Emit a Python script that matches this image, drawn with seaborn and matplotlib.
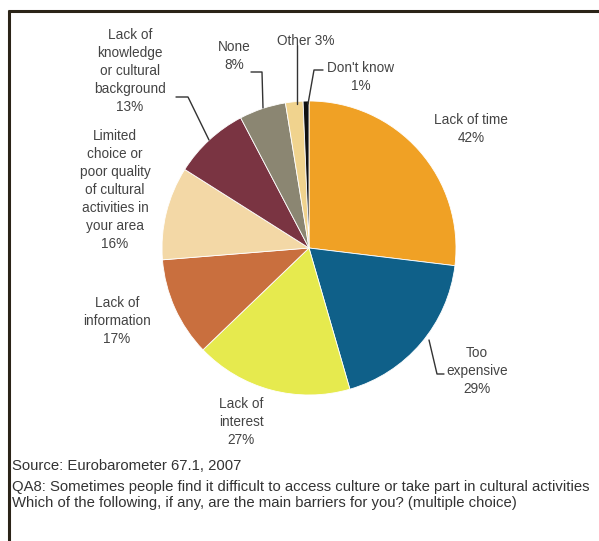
import matplotlib
matplotlib.use("Agg")
import matplotlib.pyplot as plt
import seaborn as sns

# data, clockwise from 12 o'clock
categories = ["Lack of time", "Too expensive", "Lack of interest", "Lack of information",
              "Limited choice or poor quality of cultural activities in your area",
              "Lack of knowledge or cultural background", "None", "Other", "Don't know"]
values = [42, 29, 27, 17, 16, 13, 8, 3, 1]
colors = ["#F0A125", "#0F6089", "#E6EA4E", "#C96F3E", "#F3D8A6",
          "#7A3442", "#8B8672", "#F0D38E", "#111111"]

label_texts = {
    "Lack of time": "Lack of time\n42%",
    "Too expensive": "Too\nexpensive\n29%",
    "Lack of interest": "Lack of\ninterest\n27%",
    "Lack of information": "Lack of\ninformation\n17%",
    "Limited choice": "Limited\nchoice or\npoor quality\nof cultural\nactivities in\nyour area\n16%",
    "Lack of knowledge": "Lack of\nknowledge\nor cultural\nbackground\n13%",
    "None": "None\n8%",
    "Other": "Other 3%",
    "Don't know": "Don't know\n1%",
}

source = "Source: Eurobarometer 67.1, 2007"
question = ("QA8: Sometimes people find it difficult to access culture or take part in cultural activities\n"
            "Which of the following, if any, are the main barriers for you? (multiple choice)")

sns.set_theme(style="white")
plt.rcParams['font.family'] = ['Liberation Sans', 'DejaVu Sans']

W, H = 599, 541
fig = plt.figure(figsize=(W / 100, H / 100), dpi=100)
ax = fig.add_axes([0, 0, 1, 1])


def Y(y):
    # image pixel row -> data y
    return H - y


ax.pie(values, colors=colors, startangle=90, counterclock=False,
       center=(309, Y(248)), radius=147, frame=True,
       wedgeprops=dict(edgecolor="white", linewidth=0.6))
ax.set_xlim(0, W)
ax.set_ylim(0, H)
ax.set_aspect("equal")
ax.axis("off")

txt_kw = dict(fontsize=9.8, color="#444444", ha="center", va="top", linespacing=1.37)

# label positions in image pixels (top of first line)
ax.text(471, Y(113), label_texts["Lack of time"], **txt_kw)
ax.text(477, Y(346), label_texts["Too expensive"], **txt_kw)
ax.text(241, Y(397), label_texts["Lack of interest"], **txt_kw)
ax.text(117, Y(296), label_texts["Lack of information"], **txt_kw)
ax.text(115, Y(129), label_texts["Limited choice"], **txt_kw)
ax.text(130, Y(28), label_texts["Lack of knowledge"], **txt_kw)
ax.text(234, Y(40), label_texts["None"], **txt_kw)
ax.text(306, Y(34), label_texts["Other"], **txt_kw)
ax.text(361, Y(61), label_texts["Don't know"], **txt_kw)

# leader lines
line_kw = dict(color="#333333", linewidth=1.0)
ax.plot([176, 188, 209], [Y(97), Y(97), Y(140)], **line_kw)
ax.plot([251, 262, 263], [Y(72), Y(72), Y(108)], **line_kw)
ax.plot([297, 297], [Y(45), Y(104)], **line_kw)
ax.plot([323, 314, 308], [Y(70), Y(70), Y(104)], **line_kw)
ax.plot([429, 437, 444], [Y(340), Y(374), Y(374)], **line_kw)

# source and question
ax.text(12, Y(466), source, fontsize=10.7, color="#333333", ha="left", va="center")
ax.text(12, Y(480), question, fontsize=10.7, color="#333333", ha="left", va="top", linespacing=1.2)

# frame lines (top and left)
ax.plot([8, W], [Y(11), Y(11)], color="#2b2418", linewidth=2.2, solid_capstyle="butt")
ax.plot([9, 9], [Y(10), 0], color="#2b2418", linewidth=2.2, solid_capstyle="butt")

fig.savefig("out.png", dpi=100)
